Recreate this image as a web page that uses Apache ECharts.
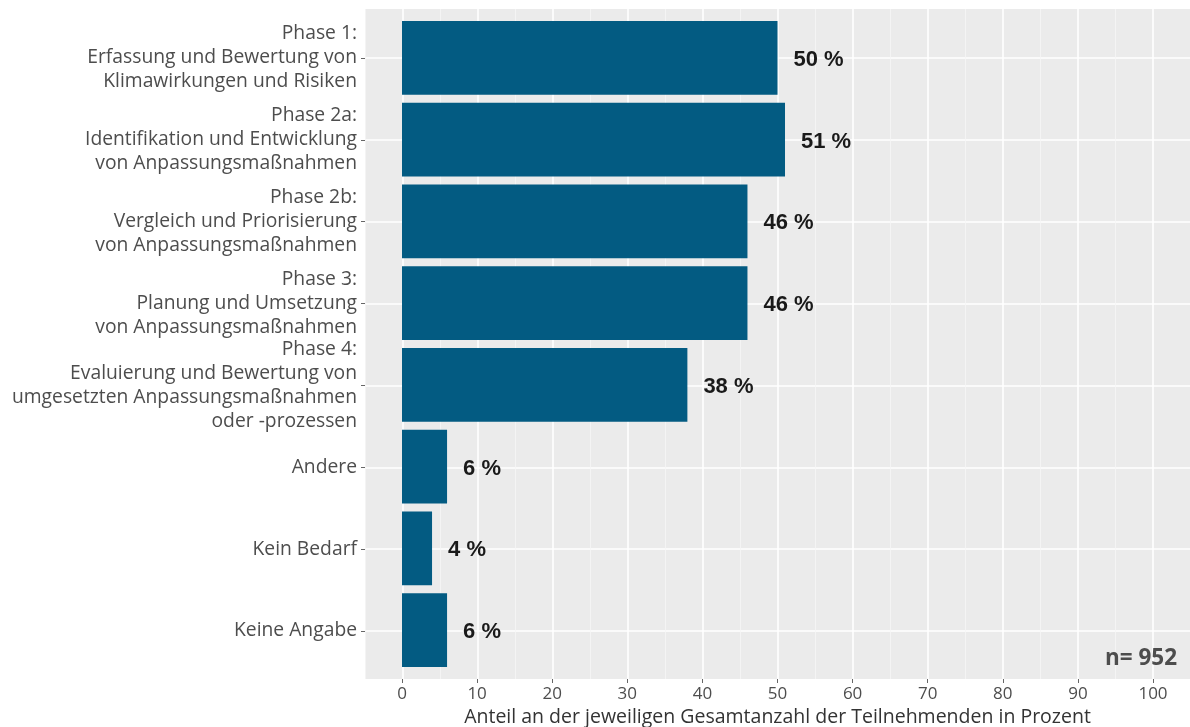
<!DOCTYPE html>
<html>
<head>
<meta charset="utf-8">
<script src="https://cdn.jsdelivr.net/npm/echarts@6/dist/echarts.min.js"></script>
<style>
  html, body { margin: 0; padding: 0; background: #ffffff; }
  #chart { width: 1190px; height: 727px; }
</style>
</head>
<body>
<div id="chart"></div>
<script>
// Phases of the adaptation cycle where support is wanted
const categories = [
  'Phase 1:\nErfassung und Bewertung von\nKlimawirkungen und Risiken',
  'Phase 2a:\nIdentifikation und Entwicklung\nvon Anpassungsmaßnahmen',
  'Phase 2b:\nVergleich und Priorisierung\nvon Anpassungsmaßnahmen',
  'Phase 3:\nPlanung und Umsetzung\nvon Anpassungsmaßnahmen',
  'Phase 4:\nEvaluierung und Bewertung von\numgesetzten Anpassungsmaßnahmen\noder -prozessen',
  'Andere',
  'Kein Bedarf',
  'Keine Angabe'
];
// Share of all participants, percent
const shares = [50, 51, 46, 46, 38, 6, 4, 6];
const sampleSize = 952;
const xAxisTitle = 'Anteil an der jeweiligen Gesamtanzahl der Teilnehmenden in Prozent';

const labelFont = '"Open Sans", Lato, sans-serif';
const barColor = '#035b82';

const chart = echarts.init(document.getElementById('chart'), null, { renderer: 'canvas' });

chart.setOption({
  animation: false,
  backgroundColor: '#ffffff',
  title: {
    text: 'n= ' + sampleSize,
    right: 8,
    top: 642,
    textStyle: { fontFamily: labelFont, fontWeight: 'bold', fontSize: 22.5, color: '#4d4d4d' }
  },
  grid: [
    // panel background with vertical grid lines
    { left: 365, right: 0, top: 9, bottom: 48, show: true, backgroundColor: '#ebebeb', borderWidth: 0, outerBoundsMode: 'none', containLabel: false },
    // horizontal grid lines and category labels at category centres
    { left: 365, right: 0, top: 58, bottom: 96, outerBoundsMode: 'none', containLabel: false },
    // bars
    { left: 402, width: 751, top: 17, bottom: 56, outerBoundsMode: 'none', containLabel: false }
  ],
  xAxis: [
    {
      gridIndex: 0, type: 'value', min: -5, max: 105, interval: 10,
      axisLine: { show: false }, axisTick: { show: false }, axisLabel: { show: false },
      splitLine: { show: true, lineStyle: { color: '#f6f6f6', width: 0.8 } },
      minorTick: { show: false, splitNumber: 2 },
      minorSplitLine: { show: true, lineStyle: { color: '#ffffff', width: 1.6 } }
    },
    {
      gridIndex: 1, type: 'value', min: 0, max: 1, show: false
    },
    {
      gridIndex: 2, type: 'value', min: 0, max: 100, interval: 10,
      position: 'bottom', offset: 8,
      axisLine: { show: false },
      axisTick: { show: true, length: 4, lineStyle: { color: '#666', width: 1 } },
      axisLabel: { color: '#4d4d4d', fontFamily: labelFont, fontSize: 17, margin: 7 },
      splitLine: { show: false },
      name: xAxisTitle, nameLocation: 'middle', nameGap: 25,
      nameTextStyle: { color: '#333333', fontFamily: labelFont, fontSize: 19.5 }
    }
  ],
  yAxis: [
    { gridIndex: 0, type: 'value', show: false, min: 0, max: 1 },
    {
      gridIndex: 1, type: 'category', data: categories, inverse: true, boundaryGap: false,
      axisLine: { show: false },
      axisTick: { show: true, length: 4, lineStyle: { color: '#666', width: 1 } },
      axisLabel: { color: '#4d4d4d', fontFamily: labelFont, fontSize: 19.3, lineHeight: 24, margin: 8, align: 'right' },
      splitLine: { show: true, lineStyle: { color: '#ffffff', width: 1.6 } }
    },
    {
      gridIndex: 2, type: 'category', data: categories, inverse: true, show: false
    }
  ],
  series: [
    {
      type: 'bar',
      xAxisIndex: 2, yAxisIndex: 2,
      data: shares,
      barCategoryGap: '10%',
      itemStyle: { color: barColor },
      label: {
        show: true, position: 'right', distance: 16, offset: [0, 2],
        formatter: p => p.value + ' %',
        fontFamily: '"Liberation Sans", Arial, sans-serif',
        fontWeight: 'bold', fontSize: 22, color: '#1a1a1a'
      }
    }
  ]
});
</script>
</body>
</html>
